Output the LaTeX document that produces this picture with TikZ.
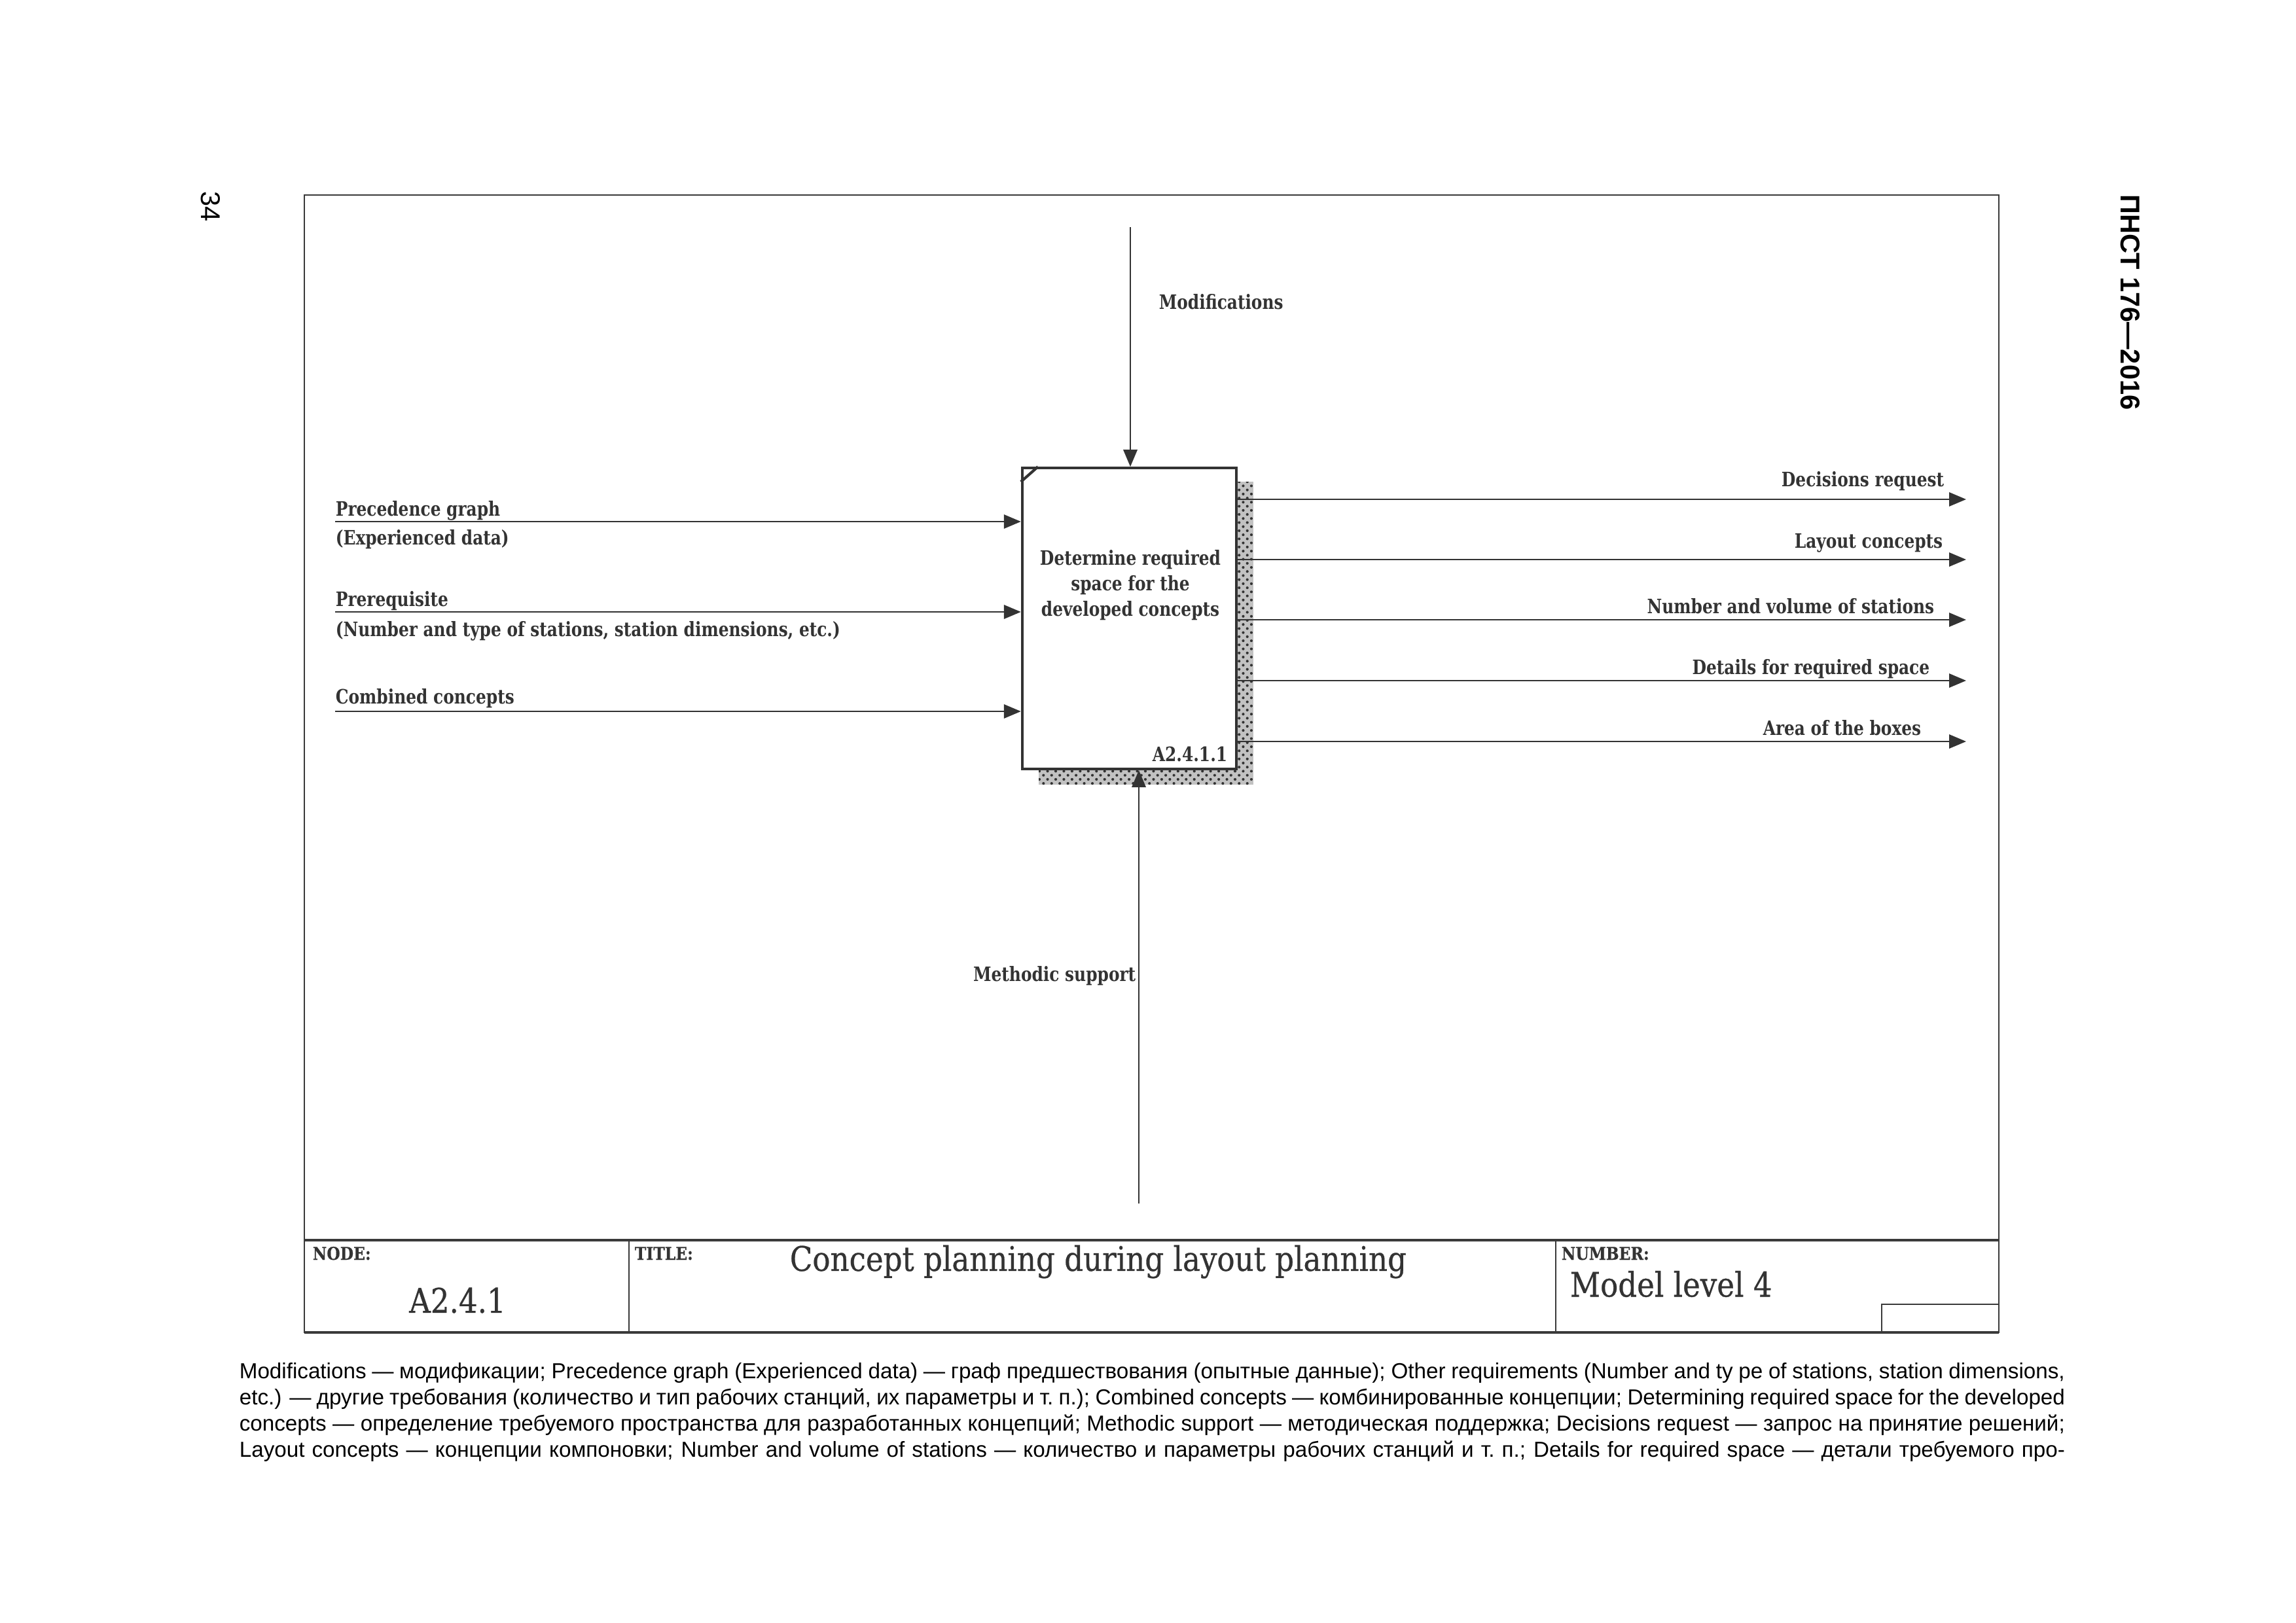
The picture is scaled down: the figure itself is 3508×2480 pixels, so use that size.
\documentclass[tikz,border=0pt]{standalone}
\usepackage{fontspec}
\setmainfont{Liberation Sans}
\newfontfamily\idef{DejaVu Serif}[FakeStretch=0.82]
\newfontfamily\ideft{DejaVu Serif}[FakeStretch=0.87, FakeBold=0.5]
\usetikzlibrary{arrows.meta,positioning,calc,patterns}
\definecolor{idInk}{HTML}{333333}
\definecolor{idLine}{HTML}{3A3A3A}
\tikzset{
  frm/.style={draw=idLine, line width=0.5pt},
  frmT/.style={draw=idLine, line width=0.8pt},
  shade/.style={fill=idInk!30, pattern=crosshatch dots, pattern color=idInk},
  actbox/.style={draw=idInk, line width=1pt, fill=white, minimum width=27.7mm, minimum height=38.9mm, inner sep=0pt},
  arr/.style={-{Triangle[length=2.2mm,width=1.8mm]}, line width=0.6pt, draw=idInk},
  lbl/.style={font=\idef\bfseries\fontsize{7.3}{9.4}\selectfont, text=idInk, inner sep=0pt},
  acttxt/.style={lbl, align=center},
  tbhead/.style={font=\ideft\bfseries\fontsize{6.5}{8}\selectfont, text=idInk, inner sep=0pt},
  tbtxt/.style={font=\ideft\fontsize{12.5}{14}\selectfont, text=idInk, inner sep=0pt},
  note/.style={font=\fontsize{8}{9.6}\selectfont, inner sep=0pt, text width=236.1mm, align=justify},
  side/.style={font=\fontsize{10}{12}\selectfont, inner sep=0pt, rotate=-90},
}

\begin{document}
\begin{tikzpicture}[x=0.08466mm, y=-0.08466mm]
\useasboundingbox (0,0) rectangle (3508,2480);
% sheet frame and title block
\draw[frm] (465,298) rectangle (3054,2036);
\draw[frmT] (465,1895) -- (3054,1895);
\draw[frmT] (465,2036) -- (3054,2036);
\draw[frm] (961,1895) -- (961,2036);
\draw[frm] (2377,1895) -- (2377,2036);
\draw[frm] (2875,2036) -- (2875,1993) -- (3054,1993);
\node[side] (pgno) at (322,316) {34};
\node[side, font=\bfseries\fontsize{10}{12}\selectfont] (docid) at (3255,462) {ПНСТ 176—2016};

% activity box with shadow
\fill[idInk!30] (1889,736) rectangle (1915,1199);
\fill[idInk!30] (1587,1175) rectangle (1889,1199);
\fill[pattern=crosshatch dots, pattern color=idInk] (1889,736) rectangle (1915,1199);
\fill[pattern=crosshatch dots, pattern color=idInk] (1587,1175) rectangle (1889,1199);
\node[actbox] (act) at (1725.5,945) {};
\draw[idInk, line width=1pt] ($(act.north west)+(0,23)$) -- ($(act.north west)+(26,0)$);
\node[acttxt] (acttext) at (1727,894) {Determine required\\space for the\\developed concepts};
\node[lbl, anchor=base east] (actid) at (1876,1163) {A2.4.1.1};

% inputs
\coordinate (iPrec) at (512,797);
\coordinate (iPre) at (512,935);
\coordinate (iComb) at (512,1087);
\draw[arr] (iPrec) -- (iPrec -| act.west);
\draw[arr] (iPre) -- (iPre -| act.west);
\draw[arr] (iComb) -- (iComb -| act.west);
\node[lbl, anchor=base west] (lPrec) at (512,788) {Precedence graph};
\node[lbl, anchor=base west] (lExp) at (512,832) {(Experienced data)};
\node[lbl, anchor=base west] (lPre) at (512,926) {Prerequisite};
\node[lbl, anchor=base west] (lNum) at (512,972) {(Number and type of stations, station dimensions, etc.)};
\node[lbl, anchor=base west] (lComb) at (512,1075) {Combined concepts};

% control and mechanism
\coordinate (cMod) at (1727,347);
\coordinate (mMeth) at (1740,1839);
\draw[arr] (cMod) -- (cMod |- act.north);
\draw[arr] (mMeth) -- (mMeth |- act.south);
\node[lbl, anchor=base west] (lMod) at (1770,472) {Modifications};
\node[lbl, anchor=base east] (lMeth) at (1736,1499) {Methodic support};

% outputs
\coordinate (qDec) at (3004,763);
\coordinate (qLay) at (3004,855);
\coordinate (qNum) at (3004,947);
\coordinate (qDet) at (3004,1040);
\coordinate (qArea) at (3004,1133);
\foreach \q in {qDec,qLay,qNum,qDet,qArea}
  \draw[arr] (\q -| act.east) -- (\q);
\node[lbl, anchor=base east] (oDec) at (2971,743) {Decisions request};
\node[lbl, anchor=base east] (oLay) at (2969,837) {Layout concepts};
\node[lbl, anchor=base east] (oNum) at (2956,937) {Number and volume of stations};
\node[lbl, anchor=base east] (oDet) at (2949,1030) {Details for required space};
\node[lbl, anchor=base east] (oArea) at (2936,1123) {Area of the boxes};

% title block texts
\node[tbhead, anchor=base west] (tNode) at (477,1925) {NODE:};
\node[tbhead, anchor=base west] (tTitle) at (969,1925) {TITLE:};
\node[tbhead, anchor=base west] (tNumber) at (2385,1925) {NUMBER:};
\node[tbtxt] (nodeid) at (699,1987) {A2.4.1};
\node[tbtxt, anchor=west] (title) at (1206,1928) {Concept planning during layout planning};
\node[tbtxt, anchor=west] (numid) at (2398,1962) {Model level 4};

% legend below the sheet
\node[note, anchor=north west] (legend) at (365,2082) {\hyphenpenalty=10000
Modifications — модификации; Precedence graph (Experienced data) — граф предшествования (опытные данные); Other requirements (Number and ty pe of stations, station dimensions,\linebreak
etc.) — другие требования (количество и тип рабочих станций, их параметры и т.~п.); Combined concepts — комбинированные концепции; Determining required space for the developed\linebreak
concepts — определение требуемого пространства для разработанных концепций; Methodic support — методическая поддержка; Decisions request — запрос на принятие решений;\linebreak
Layout concepts — концепции компоновки; Number and volume of stations — количество и параметры рабочих станций и т.~п.; Details for required space — детали требуемого про-\parfillskip=0pt\par};
\end{tikzpicture}
\end{document}
